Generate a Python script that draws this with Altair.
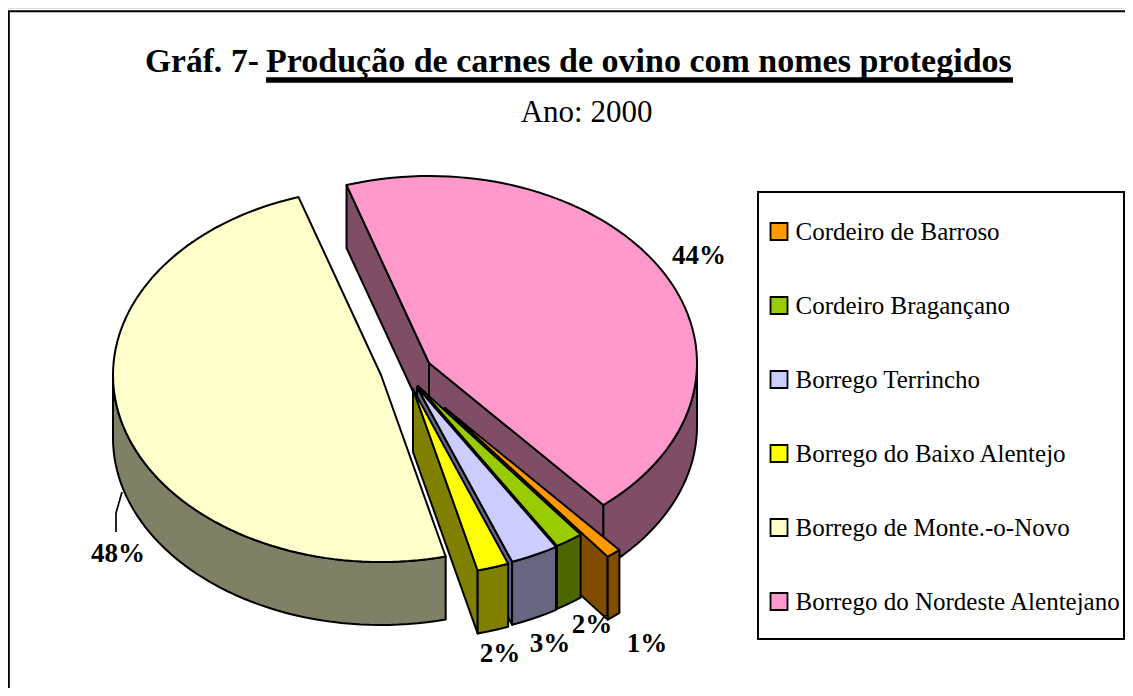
import math
import altair as alt

# ---- values ----
categories = ["Cordeiro de Barroso", "Cordeiro Bragançano", "Borrego Terrincho",
              "Borrego do Baixo Alentejo", "Borrego de Monte.-o-Novo",
              "Borrego do Nordeste Alentejano"]
shares = [0.9, 1.7, 2.9, 1.9, 48.9, 43.7]
labels = ["1%", "2%", "3%", "2%", "48%", "44%"]
top_colors = ["#FF9900", "#99CC00", "#CCCCFF", "#FFFF00", "#FFFFCC", "#FF99CC"]
side_colors = ["#804D00", "#4D6600", "#666680", "#808000", "#808066", "#804D66"]

# ---- layout (page pixels) ----
M = 8
RX, RY, DEPTH = 268, 187, 63
START = 139.4
apexes = [(445, 408), (418, 386), (417, 387), (413, 389), (381, 375), (429, 363)]
draw_order = [5, 0, 1, 2, 3, 4]
label_pos = [(647, 652), (592, 633), (550, 652), (500, 662), (118, 562), (699, 264)]
FONT = "Liberation Serif"


def pt(a, t):
    r = math.radians(t)
    return (a[0] + RX * math.sin(r) - M, a[1] - RY * math.cos(r) - M)


def poly(key, pts):
    ring = [list(p) for p in pts] + [list(pts[0])]
    return {"type": "Feature", "properties": {"key": key},
            "geometry": {"type": "Polygon", "coordinates": [ring]}}


def arc(a, t1, t2, dy=0):
    n = max(2, int(abs(t2 - t1) / 2))
    out = []
    for i in range(n + 1):
        x, y = pt(a, t1 + (t2 - t1) * i / n)
        out.append((x, y + dy))
    return out


spans = []
t = START
for s in shares:
    spans.append((t, t + s * 3.6))
    t += s * 3.6

features = []
for i in draw_order:
    name = categories[i]
    side = name + " (lado)"
    t1, t2 = spans[i]
    a = apexes[i]
    c = (a[0] - M, a[1] - M)
    mid = pt(a, (t1 + t2) / 2)
    for tc in (t1, t2):
        p = pt(a, tc)
        ex, ey = p[0] - c[0], p[1] - c[1]
        nx, ny = -ey, ex
        if nx * (mid[0] - c[0]) + ny * (mid[1] - c[1]) > 0:
            nx, ny = -nx, -ny
        if ny > 0:
            features.append(poly(side, [c, p, (p[0], p[1] + DEPTH), (c[0], c[1] + DEPTH)]))
    w1, w2 = None, None
    for off in (-360, 0, 360):
        lo, hi = max(t1 + off, 90), min(t2 + off, 270)
        if lo < hi:
            w1, w2 = lo, hi
    if w1 is not None:
        features.append(poly(side, arc(a, w1, w2) + arc(a, w2, w1, DEPTH)))
    features.append(poly(name, [c] + arc(a, t1, t2)))

pie_data = alt.InlineData(values={"type": "FeatureCollection", "features": features},
                          format=alt.DataFormat(property="features", type="json"))

pie = alt.Chart(pie_data).mark_geoshape(stroke="black", strokeWidth=2, strokeJoin="round").encode(
    color=alt.Color(
        "properties.key:N",
        scale=alt.Scale(domain=categories + [c + " (lado)" for c in categories],
                        range=top_colors + side_colors),
        legend=alt.Legend(
            values=categories, title=None, orient="none",
            legendX=766.5 - M, legendY=219 - M, padding=0,
            symbolType="square", symbolSize=289, symbolStrokeColor="black",
            symbolStrokeWidth=1.8, symbolOpacity=1,
            labelFont=FONT, labelFontSize=25, labelColor="black", labelLimit=400,
            labelOffset=4, rowPadding=48,
        ),
    )
).project(type="identity", scale=1, translate=[0, 0])


def seg(x1, y1, x2, y2, w=2.0):
    return alt.Chart({"values": [{}]}).mark_rule(color="black", strokeWidth=w).encode(
        x=alt.value(x1 - M), x2=alt.value(x2 - M), y=alt.value(y1 - M), y2=alt.value(y2 - M))


def txt(s, x, y, size, bold=False, align="center"):
    return alt.Chart({"values": [{"t": s}]}).mark_text(
        font=FONT, fontSize=size, fontWeight="bold" if bold else "normal",
        color="black", align=align, baseline="alphabetic"
    ).encode(text="t:N", x=alt.value(x - M), y=alt.value(y - M))


legend_box = alt.Chart({"values": [{}]}).mark_rect(fill="white", stroke="black", strokeWidth=2).encode(
    x=alt.value(758 - M), x2=alt.value(1124 - M), y=alt.value(192 - M), y2=alt.value(639 - M))

layers = [
    seg(8.8, 11, 8.8, 696),
    seg(8, 11.2, 1133, 11.2),
    legend_box,
    pie,
    seg(122, 492, 116, 513, 1.7),
    seg(116, 513, 116, 532, 1.7),
    txt("Gráf.", 145, 72, 33.5, True, "left"),
    txt("7-", 231, 72, 33.5, True, "left"),
    txt("Produção de carnes de ovino com nomes protegidos", 266, 72, 34, True, "left"),
    seg(266, 80, 1013, 80, 5.5),
    txt("Ano: 2000", 586.5, 122, 31),
]
for s, (x, y) in zip(labels, label_pos):
    layers.append(txt(s, x, y, 27, True))

chart = alt.layer(*layers).properties(
    width=1117, height=680, padding=0, autosize=alt.AutoSizeParams(type="none")
).configure_view(stroke=None).configure(background="white")

chart.save("out.html", embed_options={"renderer": "svg", "actions": False})
